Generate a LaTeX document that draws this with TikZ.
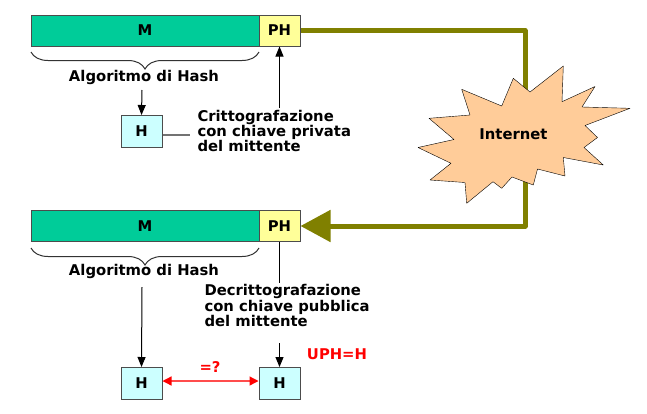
\documentclass[tikz,border=0pt]{standalone}
\usepackage{fontspec}
\setmainfont{DejaVu Sans}
\usetikzlibrary{arrows.meta,decorations.pathreplacing}
\pgfdeclarelayer{bg}
\pgfsetlayers{bg,main}
\definecolor{msgfill}{HTML}{00CC99}
\definecolor{phfill}{HTML}{FFFF99}
\definecolor{hfill}{HTML}{CCFFFF}
\definecolor{netfill}{HTML}{FFCC99}
\definecolor{netline}{HTML}{808000}
\newcommand{\diagfont}{\fontsize{14.8}{14}\selectfont\bfseries}
\tikzset{field/.style={draw=black!70, inner sep=0mm, minimum height=31pt, font=\diagfont},
  hbox/.style={field, fill=hfill, minimum width=41pt, minimum height=32pt},
  label text/.style={inner sep=0mm, font=\diagfont, align=left},
  ptr/.style={-{Triangle[length=10pt,width=8pt]}},
  hbrace/.style={draw=black!80, decorate, decoration={brace, mirror, amplitude=17pt}}}

\begin{document}
\begin{tikzpicture}[x=1pt, y=-1pt, line width=1pt]
    \useasboundingbox (0,0) rectangle (647,413);

    \node (m1) at (145,30.5) [field, fill=msgfill, minimum width=228pt] {M};
    \node (ph1) at (279.5,30.5) [field, fill=phfill, minimum width=41pt] {PH};
    \node (alg1) at (144,77.5) [label text] {Algoritmo di Hash};
    \node (h1) at (141.5,131.5) [hbox] {H};
    \node (enc) at (197,131) [label text, anchor=west] {Crittografazione\\con chiave privata\\del mittente};

    \coordinate (b1s) at (31,52);
    \coordinate (b1e) at (259,52);
    \coordinate (alg1out) at (142,90);
    \coordinate (encin) at (190,135);
    \coordinate (encout) at (279.5,108);

    \draw (b1s) edge [hbrace] (b1e);
    \draw (alg1out) edge [ptr] (h1.north);
    \draw [black!55, line width=1.4pt] (h1.east |- encin) -- (encin);
    \draw (encout) edge [ptr] (ph1.south);

    \node (m2) at (145,226) [field, fill=msgfill, minimum width=228pt] {M};
    \node (ph2) at (279.5,226) [field, fill=phfill, minimum width=41pt] {PH};
    \node (alg2) at (144,271.5) [label text] {Algoritmo di Hash};
    \node (dec) at (204,305.5) [label text, anchor=west] {Decrittografazione\\con chiave pubblica\\del mittente};
    \node (h2) at (141.5,383.5) [hbox] {H};
    \node (h3) at (279.5,383.5) [hbox] {H};
    \node (check) at (210,366.5) [label text, text=red] {=?};
    \node (match) at (337,354) [label text, text=red] {UPH=H};

    \coordinate (b2s) at (31,248);
    \coordinate (b2e) at (259,248);
    \coordinate (alg2out) at (142,287);
    \coordinate (decin) at (279.5,283);
    \coordinate (decout) at (279.5,343);

    \draw (b2s) edge [hbrace] (b2e);
    \draw (alg2out) edge [ptr] (h2.north);
    \draw (ph2.south) edge (decin);
    \draw (decout) edge [ptr] (h3.north);
    \draw [red!70, line width=1.3pt, {Triangle[length=9pt,width=9pt,red]}-{Triangle[length=9pt,width=9pt,red]}] (h2.east |- 0,381) -- (h3.west |- 0,381);

    % the net between sender and receiver
    \coordinate (turn) at (525,130);
    \begin{pgfonlayer}{bg}
        \draw [netline, line width=5pt, line join=round, -{Triangle[length=30pt,width=31pt]}]
            (ph1.east) -| (turn) |- (ph2.east);
    \end{pgfonlayer}

    \draw [fill=netfill, draw=black, line join=round]
        (461.7,89.3) -- (501.7,106) -- (513.3,78.3) -- (530,92) -- (563.3,66) -- (562,101.7)
        -- (595,86.5) -- (582,107) -- (630,108.3) -- (585,125.5) -- (597.5,137.5) -- (584,147.5)
        -- (603.3,165) -- (563.3,157.5) -- (565,176) -- (537.5,169) -- (533.3,185) -- (512,177)
        -- (501.7,188.3) -- (493,181.7) -- (466.7,203.3) -- (465,182.5) -- (430,180) -- (451,163.3)
        -- (418,147.5) -- (454,139.5) -- (429,118.3) -- (470,115) -- cycle;
    \node (net) at (513.5,134) [label text] {Internet};
\end{tikzpicture}
\end{document}
